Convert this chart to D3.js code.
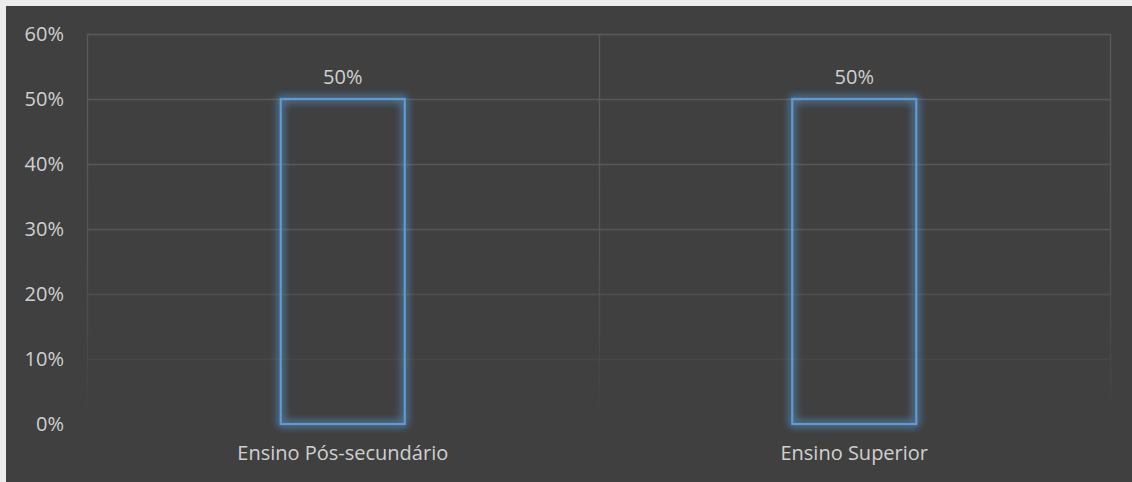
<!DOCTYPE html>
<html>
<head>
<meta charset="utf-8">
<script src="https://cdn.jsdelivr.net/npm/d3@7"></script>
<style>
  html, body { margin: 0; padding: 0; background: #ececec; }
  svg { display: block; }
  text { font-family: "Open Sans", "Noto Sans", sans-serif; }
</style>
</head>
<body>
<div class="chart"></div>
<script>
var categories = ["Ensino Pós-secundário", "Ensino Superior"];
var values = [0.5, 0.5];
var yTicks = [0, 0.1, 0.2, 0.3, 0.4, 0.5, 0.6];

var svgWidth = 1132;
var svgHeight = 482;

var margin = { top: 34, right: 22, bottom: 58, left: 87 };
var width = svgWidth - margin.left - margin.right;
var height = svgHeight - margin.top - margin.bottom;

var svg = d3.select(".chart")
  .append("svg")
  .attr("width", svgWidth)
  .attr("height", svgHeight);

// dark chart background inside a thin light frame
svg.append("rect")
  .attr("x", 6)
  .attr("y", 6)
  .attr("width", svgWidth - 6)
  .attr("height", svgHeight - 6)
  .attr("fill", "#404040");

var defs = svg.append("defs");

// gridlines fade out toward the bottom
var grad = defs.append("linearGradient")
  .attr("id", "gridFade")
  .attr("gradientUnits", "userSpaceOnUse")
  .attr("x1", 0).attr("y1", margin.top)
  .attr("x2", 0).attr("y2", margin.top + height - 40);
grad.append("stop").attr("offset", "0%").attr("stop-color", "#5a5a5a").attr("stop-opacity", 1);
grad.append("stop").attr("offset", "50%").attr("stop-color", "#5a5a5a").attr("stop-opacity", 0.85);
grad.append("stop").attr("offset", "100%").attr("stop-color", "#5a5a5a").attr("stop-opacity", 0);

var glow = defs.append("filter")
  .attr("id", "glow")
  .attr("x", "-30%").attr("y", "-30%")
  .attr("width", "160%").attr("height", "160%");
glow.append("feGaussianBlur")
  .attr("in", "SourceGraphic")
  .attr("stdDeviation", 4.5)
  .attr("result", "blur");
var merge = glow.append("feMerge");
merge.append("feMergeNode").attr("in", "blur");
merge.append("feMergeNode").attr("in", "blur");
merge.append("feMergeNode").attr("in", "SourceGraphic");

var chartGroup = svg.append("g")
  .attr("transform", `translate(${margin.left}, ${margin.top})`);

var xScale = d3.scaleBand()
  .domain(categories)
  .range([0, width])
  .paddingInner(0)
  .paddingOuter(0);

var yScale = d3.scaleLinear()
  .domain([0, 0.6])
  .range([height, 0]);

// horizontal gridlines
chartGroup.append("g")
  .selectAll("line")
  .data(yTicks.filter(d => d > 0))
  .enter()
  .append("line")
  .attr("x1", 0)
  .attr("x2", width)
  .attr("y1", d => Math.round(yScale(d)) + 0.5)
  .attr("y2", d => Math.round(yScale(d)) + 0.5)
  .attr("stroke", "url(#gridFade)")
  .attr("stroke-width", 1.3);

// vertical category separators
var xEdges = [0, xScale(categories[1]), width];
chartGroup.append("g")
  .selectAll("line")
  .data(xEdges)
  .enter()
  .append("line")
  .attr("x1", d => Math.round(d) + 0.5)
  .attr("x2", d => Math.round(d) + 0.5)
  .attr("y1", 0)
  .attr("y2", height)
  .attr("stroke", "url(#gridFade)")
  .attr("stroke-width", 1.3);

// y axis labels
var yAxis = d3.axisLeft(yScale)
  .tickValues(yTicks)
  .tickFormat(d3.format(".0%"))
  .tickSize(0)
  .tickPadding(23);

var yAxisG = chartGroup.append("g").call(yAxis);
yAxisG.select(".domain").remove();
yAxisG.selectAll("text")
  .attr("fill", "#d0d0d0")
  .style("font-size", "20px");

// x axis labels
chartGroup.append("g")
  .selectAll("text")
  .data(categories)
  .enter()
  .append("text")
  .attr("x", d => xScale(d) + xScale.bandwidth() / 2)
  .attr("y", height + 36)
  .attr("text-anchor", "middle")
  .attr("fill", "#d0d0d0")
  .style("font-size", "20px")
  .text(d => d);

// bars: outline only with glow
var barW = 124;
chartGroup.append("g")
  .selectAll("rect")
  .data(values)
  .enter()
  .append("rect")
  .attr("x", (d, i) => xScale(categories[i]) + xScale.bandwidth() / 2 - barW / 2)
  .attr("y", d => yScale(d))
  .attr("width", barW)
  .attr("height", d => height - yScale(d))
  .attr("fill", "none")
  .attr("stroke", "#5b9bd5")
  .attr("stroke-width", 2.2)
  .attr("filter", "url(#glow)");

// value labels
chartGroup.append("g")
  .selectAll("text")
  .data(values)
  .enter()
  .append("text")
  .attr("x", (d, i) => xScale(categories[i]) + xScale.bandwidth() / 2)
  .attr("y", d => yScale(d) - 15)
  .attr("text-anchor", "middle")
  .attr("fill", "#d0d0d0")
  .style("font-size", "20px")
  .text(d => d3.format(".0%")(d));
</script>
</body>
</html>
